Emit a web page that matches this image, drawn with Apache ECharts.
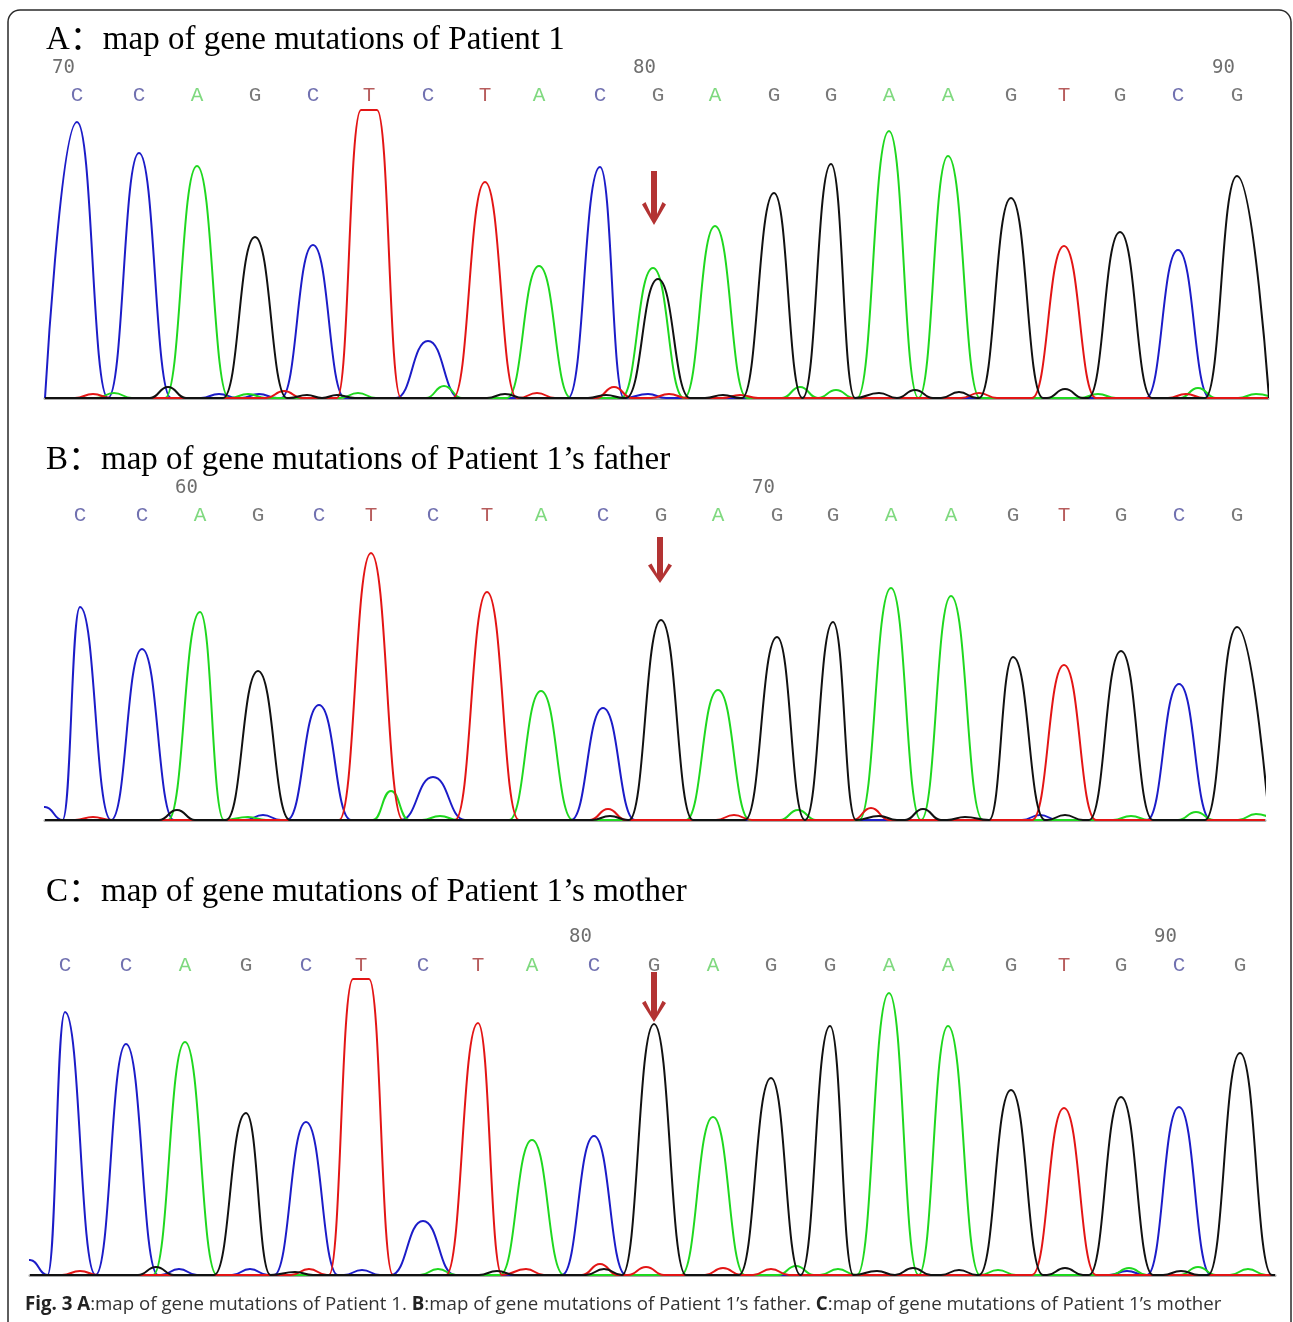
<!DOCTYPE html>
<html>
<head>
<meta charset="utf-8">
<script src="https://cdn.jsdelivr.net/npm/echarts@6/dist/echarts.min.js"></script>
<style>
  html, body { margin: 0; padding: 0; background: #fff; }
  #chart { width: 1293px; height: 1322px; }
</style>
</head>
<body>
<div id="chart"></div>
<script>
// base calls, same stretch of sequence in all three traces
const bases = ['C','C','A','G','C','T','C','T','A','C','G','A','G','G','A','A','G','T','G','C','G'];

// A: Patient 1
const posA = [32, 94, 152, 210, 268, 324, 383, 440, 494, 555, 613, 670, 729, 786, 844, 903, 966, 1019, 1075, 1133, 1192];
const heightA = [276, 245, 232, 161, 153, 288, 57, 216, 132, 231, 119, 172, 205, 234, 267, 242, 200, 152, 166, 148, 222];
const secondA = [['A', 608, 130]];
const noiseA = [
  ['T', 48, 4], ['A', 69, 5], ['G', 123, 11], ['C', 174, 4], ['A', 203, 4], ['C', 214, 4],
  ['T', 239, 7], ['G', 262, 3], ['G', 292, 3], ['A', 313, 5], ['A', 399, 12], ['G', 460, 4],
  ['T', 492, 5], ['G', 561, 3], ['T', 569, 11], ['C', 603, 4], ['T', 624, 4], ['G', 678, 3],
  ['T', 695, 3], ['A', 755, 11], ['A', 791, 8], ['G', 834, 5], ['G', 870, 8], ['G', 914, 6],
  ['T', 934, 5], ['G', 1020, 9], ['A', 1053, 4], ['T', 1141, 4], ['A', 1153, 10], ['A', 1211, 4]
];
const ticksA = [[0, '70'], [10, '80'], [20, '90']];
const arrowA = [609, 200];

// B: father
const posB = [35, 97, 155, 213, 274, 326, 388, 442, 496, 558, 616, 673, 732, 788, 846, 906, 968, 1019, 1076, 1134, 1192];
const heightB = [213, 171, 208, 149, 115, 267, 43, 228, 129, 112, 200, 130, 183, 198, 232, 224, 163, 155, 169, 136, 193];
const secondB = [];
const noiseB = [
  ['C', 0, 13], ['T', 48, 3], ['G', 132, 10], ['A', 203, 3], ['C', 218, 5], ['A', 346, 29],
  ['A', 395, 4], ['T', 563, 11], ['G', 565, 4], ['T', 689, 5], ['A', 753, 10], ['T', 826, 12],
  ['G', 834, 4], ['G', 878, 11], ['G', 920, 3], ['C', 995, 5], ['G', 1020, 5], ['A', 1086, 4],
  ['A', 1151, 8], ['A', 1211, 6]
];
const ticksB = [[2, '60'], [12, '70']];
const arrowB = [615, 260];

// C: mother
const posC = [35, 96, 155, 216, 276, 331, 393, 448, 502, 564, 624, 683, 741, 800, 859, 918, 981, 1034, 1091, 1149, 1210];
const heightC = [263, 231, 233, 162, 153, 296, 54, 252, 135, 139, 251, 158, 197, 249, 282, 249, 185, 167, 178, 168, 222];
const secondC = [];
const noiseC = [
  ['C', 0, 15], ['T', 50, 4], ['G', 126, 8], ['C', 149, 6], ['C', 220, 6], ['G', 265, 3],
  ['T', 279, 6], ['C', 332, 5], ['A', 408, 6], ['G', 467, 4], ['T', 496, 6], ['T', 570, 11],
  ['G', 574, 6], ['T', 616, 8], ['T', 693, 7], ['T', 741, 6], ['A', 766, 9], ['A', 808, 6],
  ['G', 847, 4], ['G', 883, 7], ['G', 929, 5], ['A', 968, 5], ['G', 1035, 7], ['C', 1097, 4],
  ['A', 1099, 7], ['G', 1151, 4], ['A', 1168, 8], ['A', 1218, 6]
];
const ticksC = [[9, '80'], [19, '90']];
const arrowC = [624, 278];

const traceColor = { A: '#1fd81f', C: '#1c1cc8', G: '#111111', T: '#e31515' };
const letterColor = { A: '#5fcf5f', C: '#4d4d9c', G: '#585858', T: '#a53535' };
const PEAK_W = 32;
const NOISE_W = 18;
const PLATEAU = 8;

const panels = [
  { pos: posA, height: heightA, second: secondA, noise: noiseA, ticks: ticksA, arrow: arrowA, arrowSize: [24, 54],
    xMax: 1223, yMax: 288, plot: { left: 45, right: 25, top: 110, height: 288 }, label: { top: 68, height: 27 },
    title: 'A：map of gene mutations of Patient 1', titleY: 40 },
  { pos: posB, height: heightB, second: secondB, noise: noiseB, ticks: ticksB, arrow: arrowB, arrowSize: [24, 46],
    xMax: 1220, yMax: 290, plot: { left: 45, right: 28, top: 530, height: 290 }, label: { top: 488, height: 27 },
    title: 'B：map of gene mutations of Patient 1’s father', titleY: 460 },
  { pos: posC, height: heightC, second: secondC, noise: noiseC, ticks: ticksC, arrow: arrowC, arrowSize: [24, 50],
    xMax: 1245, yMax: 296, plot: { left: 30, right: 18, top: 979, height: 296 }, label: { top: 937, height: 28 },
    title: 'C：map of gene mutations of Patient 1’s mother', titleY: 892 }
];

function buildTrace(base, p) {
  const feats = [];
  bases.forEach((b, i) => { if (b === base) feats.push([p.pos[i], p.height[i], PEAK_W]); });
  p.second.forEach(([b, x, h]) => { if (b === base) feats.push([x, h, PEAK_W]); });
  p.noise.forEach(([b, x, h]) => { if (b === base) feats.push([x, h, NOISE_W]); });
  feats.sort((a, b) => a[0] - b[0]);
  const pts = [];
  let prevX = null;
  feats.forEach(([x, h, w]) => {
    const last = pts[pts.length - 1];
    if (!last) {
      pts.push([x - w, 0]);
    } else if (last[0] > x - w) {
      last[0] = (prevX + x) / 2;
    } else {
      pts.push([x - w, 0]);
    }
    if (h >= p.yMax) {
      pts.push([x - PLATEAU, p.yMax], [x + PLATEAU, p.yMax]);
    } else {
      pts.push([x, h]);
    }
    pts.push([x + w, 0]);
    prevX = x;
  });
  if (pts[0][0] > 0) pts.unshift([0, 0]);
  if (pts[pts.length - 1][0] < p.xMax) pts.push([p.xMax, 0]);
  return pts;
}

const ARROW = 'path://M9,0 L15,0 L15,43 L20.5,31 L24,33.5 L12,54 L0,33.5 L3.5,31 L9,43 Z';

const grid = [];
const xAxis = [];
const yAxis = [];
const series = [];
const graphic = [];

panels.forEach((p) => {
  const plotIdx = grid.length;
  grid.push(Object.assign({}, p.plot));
  grid.push({ left: p.plot.left, right: p.plot.right, top: p.label.top, height: p.label.height });
  const labelIdx = plotIdx + 1;

  xAxis.push({
    gridIndex: plotIdx, type: 'value', min: 0, max: p.xMax,
    axisLine: { show: true, onZero: false, lineStyle: { color: '#a8a8a8', width: 3 } },
    axisTick: { show: false }, axisLabel: { show: false }, splitLine: { show: false }
  });
  xAxis.push({
    gridIndex: labelIdx, type: 'value', min: 0, max: p.xMax,
    axisLine: { show: false }, axisTick: { show: false }, axisLabel: { show: false }, splitLine: { show: false }
  });
  yAxis.push({ gridIndex: plotIdx, type: 'value', min: 0, max: p.yMax, show: false, splitLine: { show: false } });
  yAxis.push({ gridIndex: labelIdx, type: 'value', min: 0, max: 1, show: false, splitLine: { show: false } });

  ['C', 'A', 'T', 'G'].forEach((b) => {
    series.push({
      type: 'line', xAxisIndex: plotIdx, yAxisIndex: plotIdx,
      data: buildTrace(b, p),
      showSymbol: false, symbol: 'none',
      smooth: 0.5, smoothMonotone: 'x',
      lineStyle: { color: traceColor[b], width: 2 },
      silent: true
    });
  });

  // base letters
  series.push({
    type: 'scatter', xAxisIndex: labelIdx, yAxisIndex: labelIdx,
    symbolSize: 0, silent: true,
    data: bases.map((b, i) => ({
      value: [p.pos[i], 0, b],
      label: { color: letterColor[b] }
    })),
    label: {
      show: true, position: 'inside',
      formatter: (d) => d.value[2],
      fontFamily: '"Liberation Mono", "Courier New", monospace', fontSize: 21
    }
  });
  // position numbers
  series.push({
    type: 'scatter', xAxisIndex: labelIdx, yAxisIndex: labelIdx,
    symbolSize: 0, silent: true,
    data: p.ticks.map(([i, t]) => [p.pos[i], 1, t]),
    label: {
      show: true, position: 'left', distance: 2,
      formatter: (d) => d.value[2],
      color: '#4a4a4a',
      fontFamily: '"DejaVu Sans Mono", monospace', fontSize: 19
    }
  });
  // mutation arrow
  series.push({
    type: 'scatter', xAxisIndex: plotIdx, yAxisIndex: plotIdx,
    symbol: ARROW, symbolSize: p.arrowSize, symbolKeepAspect: false,
    itemStyle: { color: '#a00000' }, silent: true, z: 5,
    data: [p.arrow]
  });

  graphic.push({
    type: 'text', x: 46, y: p.titleY,
    style: {
      text: p.title,
      font: '33px "Liberation Serif", "Times New Roman", "Noto Sans CJK SC", serif',
      fill: '#000', verticalAlign: 'middle'
    }
  });
});

graphic.push({
  type: 'rect', shape: { x: 8, y: 10, width: 1283, height: 1360, r: 12 },
  style: { fill: 'none', stroke: '#2a2a2a', lineWidth: 1.5 }, z: -1
});
graphic.push({
  type: 'text', x: 25, y: 1305,
  style: {
    text: '{b|Fig. 3 A}:map of gene mutations of Patient 1. {b|B}:map of gene mutations of Patient 1’s father. {b|C}:map of gene mutations of Patient 1’s mother',
    fontFamily: '"Open Sans", sans-serif', fontSize: 18.7, fill: '#333',
    verticalAlign: 'middle',
    rich: { b: { fontFamily: '"Open Sans", sans-serif', fontSize: 18.7, fontWeight: 'bold', fill: '#222' } }
  }
});

const chart = echarts.init(document.getElementById('chart'), null, { renderer: 'canvas' });
chart.setOption({
  animation: false,
  backgroundColor: '#ffffff',
  grid, xAxis, yAxis, series, graphic
});
</script>
</body>
</html>
